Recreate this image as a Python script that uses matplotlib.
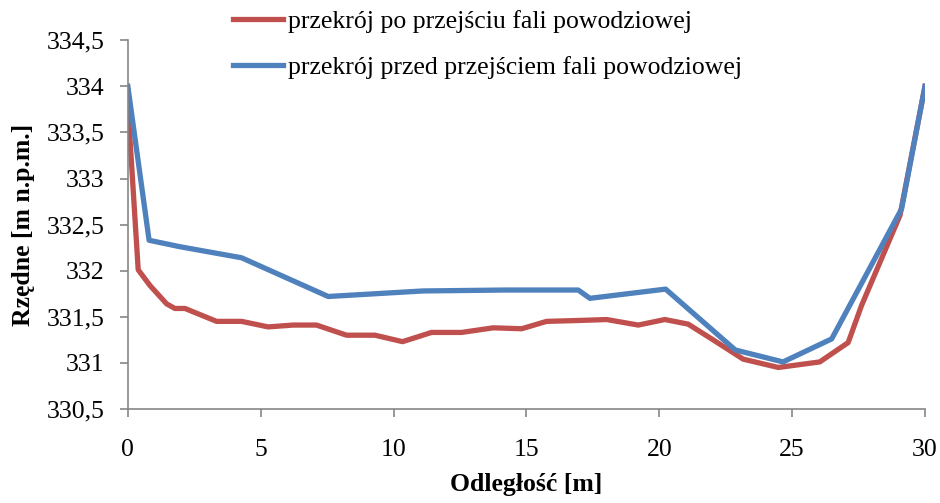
import matplotlib
matplotlib.use('Agg')
import matplotlib.pyplot as plt
from matplotlib.ticker import FuncFormatter

plt.rcParams['font.family'] = ['Liberation Serif', 'DejaVu Serif']

# odległość [m] / rzędna [m n.p.m.]
po_x = [0, 0.39, 0.83, 1.46, 1.77, 2.15, 3.34, 4.28, 5.28, 6.22, 7.10, 8.23,
        9.30, 10.34, 11.43, 12.56, 13.75, 14.82, 15.76, 17.01, 18.02, 19.21,
        20.21, 21.09, 21.97, 23.16, 24.48, 26.04, 27.11, 27.61, 29.06, 30.0]
po_y = [333.80, 332.01, 331.84, 331.64, 331.59, 331.59, 331.45, 331.45, 331.39,
        331.41, 331.41, 331.30, 331.30, 331.23, 331.33, 331.33, 331.38, 331.37,
        331.45, 331.46, 331.47, 331.41, 331.47, 331.42, 331.26, 331.04, 330.95,
        331.01, 331.22, 331.62, 332.60, 334.0]

przed_x = [0, 0.80, 1.96, 4.28, 7.54, 11.11, 14.19, 16.95, 17.39, 20.24,
           22.86, 24.66, 26.49, 29.12, 30.0]
przed_y = [334.0, 332.33, 332.26, 332.14, 331.72, 331.78, 331.79, 331.79,
           331.70, 331.80, 331.14, 331.01, 331.26, 332.67, 334.0]

label_po = 'przekrój po przejściu fali powodziowej'
label_przed = 'przekrój przed przejściem fali powodziowej'

fs = 18.5

fig = plt.figure(figsize=(9.4, 5.03), dpi=100)
ax = fig.add_axes([0.136, 0.187, 0.848, 0.733])

ax.plot(po_x, po_y, color='#C0504D', lw=3.8, label=label_po)
ax.plot(przed_x, przed_y, color='#4F81BD', lw=3.8, label=label_przed)

ax.set_xlim(0, 30)
ax.set_ylim(330.5, 334.5)
ax.set_xticks(range(0, 31, 5))
ax.set_yticks([330.5 + 0.5 * i for i in range(9)])
ax.yaxis.set_major_formatter(FuncFormatter(lambda v, p: ('%g' % v).replace('.', ',')))

for s in ['top', 'right']:
    ax.spines[s].set_visible(False)
for s in ['left', 'bottom']:
    ax.spines[s].set_color('#868686')
    ax.spines[s].set_linewidth(1.2)
ax.tick_params(axis='both', colors='#868686', labelcolor='black', labelsize=fs,
               length=6, width=1.2)
ax.tick_params(axis='x', pad=16)
ax.tick_params(axis='y', pad=11)

ax.set_xlabel('Odległość [m]', fontsize=fs, fontweight='bold', labelpad=8)
ax.set_ylabel('Rzędne [m n.p.m.]', fontsize=fs, fontweight='bold', labelpad=8)

fig.legend(loc='upper left', bbox_to_anchor=(0.248, 0.981), frameon=False,
           fontsize=fs, handlelength=1.95, handletextpad=0.2, labelspacing=0.9,
           borderpad=0, borderaxespad=0)

fig.savefig('out.png', dpi=100)
